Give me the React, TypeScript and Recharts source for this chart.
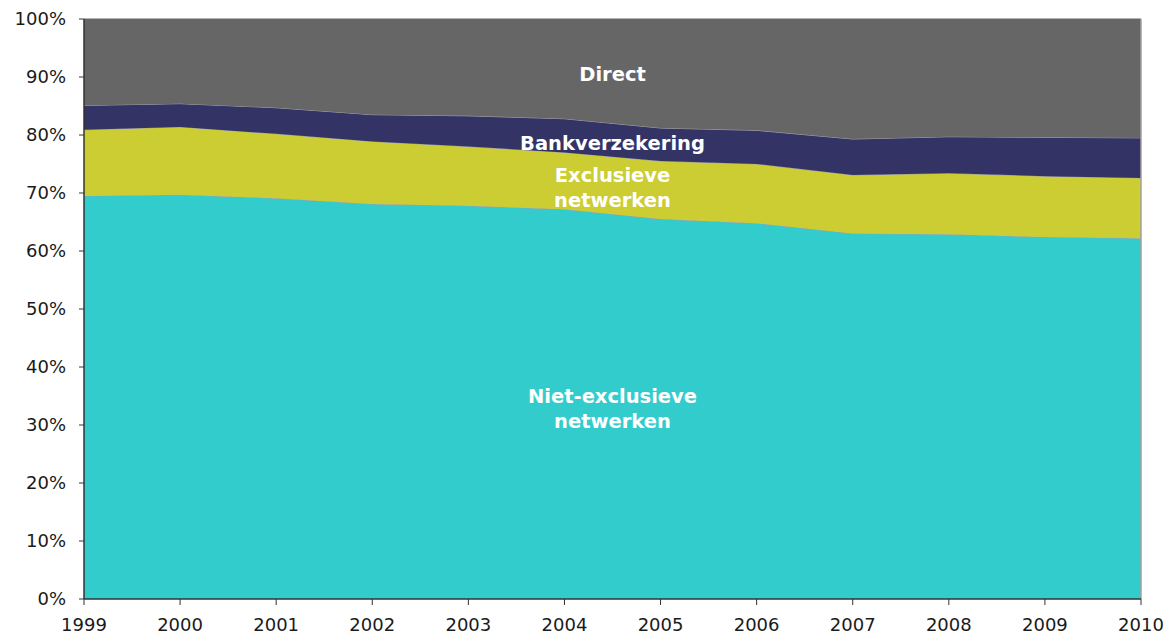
import { AreaChart, Area, XAxis, YAxis, ReferenceDot, ReferenceLine } from 'recharts'

const years = [1999, 2000, 2001, 2002, 2003, 2004, 2005, 2006, 2007, 2008, 2009, 2010]
const nietExclusieve = [69.5, 69.7, 69.1, 68.1, 67.8, 67.2, 65.5, 64.8, 63.0, 62.9, 62.4, 62.2]
const exclusieve = [11.4, 11.7, 11.1, 10.8, 10.2, 9.8, 10.0, 10.2, 10.1, 10.5, 10.5, 10.4]
const bankverzekering = [4.2, 4.0, 4.5, 4.6, 5.3, 5.8, 5.7, 5.8, 6.2, 6.3, 6.7, 6.9]
const direct = [14.9, 14.6, 15.3, 16.5, 16.7, 17.2, 18.8, 19.2, 20.7, 20.3, 20.4, 20.5]
const yTicks = [0, 10, 20, 30, 40, 50, 60, 70, 80, 90, 100]

const data = years.map((year, i) => ({
  year,
  niet: nietExclusieve[i],
  excl: exclusieve[i],
  bank: bankverzekering[i],
  direct: direct[i],
}))

const font = '"DejaVu Sans", Verdana, sans-serif'
const tickStyle = { fontSize: 18, fill: '#1a1a1a', fontFamily: font }

// white bold labels inside the bands
const bandLabels = [
  { x: 2004.5, y: 90.5, lines: ['Direct'] },
  { x: 2004.5, y: 78.6, lines: ['Bankverzekering'] },
  { x: 2004.5, y: 71.0, lines: ['Exclusieve', 'netwerken'] },
  { x: 2004.5, y: 32.8, lines: ['Niet-exclusieve', 'netwerken'] },
]

const BandLabel = ({ viewBox, lines }: any) => {
  const cx = viewBox.x + (viewBox.width || 0) / 2
  const cy = viewBox.y + (viewBox.height || 0) / 2
  const lineH = 25
  return (
    <text
      x={cx}
      y={cy}
      textAnchor="middle"
      fill="#ffffff"
      fontFamily={font}
      fontWeight="bold"
      fontSize={19.5}
    >
      {lines.map((l: string, i: number) => (
        <tspan key={l} x={cx} dy={i === 0 ? 7 - ((lines.length - 1) * lineH) / 2 : lineH}>{l}</tspan>
      ))}
    </text>
  )
}

export default function App() {
  return (
    <div style={{ position: 'absolute', left: 0, top: 0 }}>
      <AreaChart width={1175} height={635} data={data} margin={{ top: 19, right: 34, left: 0, bottom: 0 }}>
        <XAxis
          dataKey="year"
          type="number"
          domain={[1999, 2010]}
          ticks={years}
          tick={tickStyle}
          tickSize={6}
          tickMargin={13}
          height={36}
          stroke="#333"
          axisLine={{ stroke: '#333', strokeWidth: 1.5 }}
          tickLine={{ stroke: '#333' }}
        />
        <YAxis
          domain={[0, 100]}
          ticks={yTicks}
          tickFormatter={(v: number) => `${v}%`}
          tick={tickStyle}
          tickSize={5}
          tickMargin={13}
          width={84}
          interval={0}
          axisLine={{ stroke: '#333', strokeWidth: 1.5 }}
          tickLine={{ stroke: '#333' }}
        />
        <Area dataKey="niet" stackId="a" type="linear" fill="#33CCCC" fillOpacity={1} stroke="#A0A0A8" strokeWidth={1} isAnimationActive={false} />
        <Area dataKey="excl" stackId="a" type="linear" fill="#CCCC33" fillOpacity={1} stroke="#A0A0A8" strokeWidth={1} isAnimationActive={false} />
        <Area dataKey="bank" stackId="a" type="linear" fill="#333366" fillOpacity={1} stroke="#A0A0A8" strokeWidth={1} isAnimationActive={false} />
        <Area dataKey="direct" stackId="a" type="linear" fill="#666666" fillOpacity={1} stroke="#666666" strokeWidth={1} isAnimationActive={false} />
        <ReferenceLine x={2010} stroke="#A0A0A0" strokeWidth={1.5} />
        {bandLabels.map((b) => (
          <ReferenceDot
            key={b.lines[0]}
            x={b.x}
            y={b.y}
            r={0}
            fill="none"
            stroke="none"
            label={(props: any) => <BandLabel {...props} lines={b.lines} />}
          />
        ))}
      </AreaChart>
    </div>
  )
}
